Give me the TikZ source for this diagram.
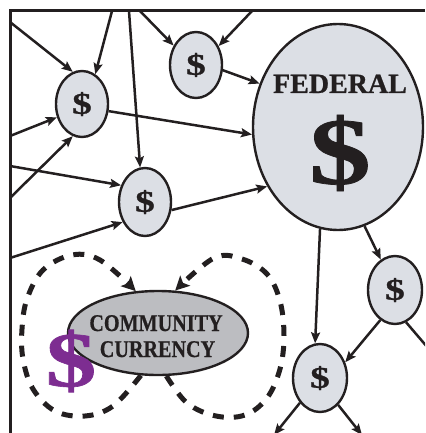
\documentclass[tikz,border=0pt]{standalone}
\usepackage{fontspec}
\setmainfont{Liberation Serif}
\newfontfamily\heavy[FakeBold=0.8]{Liberation Serif Bold}
\usepackage{graphicx}
\usetikzlibrary{shapes.geometric,arrows.meta}
\definecolor{bubble}{RGB}{220,223,229}
\definecolor{commfill}{RGB}{188,189,193}
\definecolor{ink}{RGB}{35,31,32}
\definecolor{plum}{RGB}{125,45,145}
\newcommand{\wide}[1]{\scalebox{1.3}[1]{#1}}
\newcommand{\narrow}[1]{\scalebox{0.84}[1]{#1}}
\begin{document}
\begin{tikzpicture}[x=1pt,y=-1pt,
  cell/.style={ellipse, draw=ink, line width=2.4pt, fill=bubble, inner sep=0pt,
    minimum width=52pt, minimum height=66pt},
  flow/.style={draw=ink, line width=2.5pt, -{Stealth[length=11pt,width=9pt,inset=2pt]}},
  cycle/.style={draw=ink, line width=5pt, dash pattern=on 11pt off 10pt,
    -{Stealth[length=14pt,width=14pt,inset=3pt]}},
  dollar/.style={font=\heavy\fontsize{30}{30}\selectfont, text=ink},
  word/.style={font=\heavy\fontsize{24}{24}\selectfont, text=ink, inner sep=0pt, anchor=base}
]
\useasboundingbox (0,0) rectangle (425,433);
\clip (0,0) rectangle (425,433);

% frame
\draw[ink, line width=3pt] (425,11) -- (10,11) -- (10,440);

% money bubbles
\node[cell, dollar] (a) at (82,104) {\wide{\$}};
\node[cell, dollar] (b) at (196,65) {\wide{\$}};
\node[cell, dollar, minimum height=68pt] (c) at (145,202) {\wide{\$}};
\node[cell, dollar, minimum width=54pt, minimum height=68pt] (d) at (395,290) {\wide{\$}};
\node[cell, dollar, minimum width=54pt, minimum height=68pt] (e) at (320,378) {\wide{\$}};

% federal reserve
\node[cell, minimum width=170pt, minimum height=206pt] (fed) at (338,127) {};
\node[word, font=\heavy\fontsize{28}{28}\selectfont] (fedname) at (340,93) {FEDERAL};
\node[inner sep=0pt, text=ink, font=\heavy\fontsize{95}{95}\selectfont] (fedsign) at (340,153) {\wide{\$}};

% community currency
\node[ellipse, draw=ink, line width=2.4pt, fill=commfill, inner sep=0pt,
  minimum width=180pt, minimum height=84pt] (com) at (158,333) {};
\node[word] (comtop) at (156,331) {\narrow{COMMUNITY}};
\node[word] (combot) at (157.5,357) {\narrow{CURRENCY}};
\node[inner sep=0pt, text=plum, font=\heavy\fontsize{78}{78}\selectfont] (comsign) at (71,361) {\wide{\$}};

% entry points on the frame and exits past the edge
\coordinate (l1) at (10,22);
\coordinate (l2) at (10,136);
\coordinate (l3) at (10,198);
\coordinate (l4) at (10,166);
\coordinate (l5) at (10,258);
\coordinate (t1) at (112,11);
\coordinate (t2) at (140,11);
\coordinate (t3) at (252,11);
\coordinate (t4) at (129,11);
\coordinate (o1) at (440,362);
\coordinate (o2) at (274,435);
\coordinate (o3) at (362,435);

% money flows
\draw[flow] (l1) -- (a.106);
\draw[flow] (t1) -- (a.66);
\draw[flow] (l2) -- (a.208);
\draw[flow] (l3) -- (a.254);
\draw[flow] (t2) -- (b.139);
\draw[flow] (t3) -- (b.40);
\draw[flow] (t4) -- (c.98);
\draw[flow] (l4) -- (c.145);
\draw[flow] (l5) -- (c.222);
\draw[flow] (b.-11) -- (fed.151);
\draw[flow] (a.-15) -- (fed.185);
\draw[flow] (c.-17) -- (fed.220);
\draw[flow] (fed.260) -- (e.98);
\draw[flow] (fed.285) -- (d.115);
\draw[flow] (d.244) -- (e.32);
\draw[flow] (d.289) -- (o1);
\draw[flow] (e.231) -- (o2);
\draw[flow] (e.304) -- (o3);

% local circulation loops
\draw[cycle] plot[smooth, tension=0.6] coordinates {(com.248) (113,406) (85,416) (55,411) (33,389) (23,359) (22,329) (27,299) (43,270) (72,255) (100,260) (com.118)};
\draw[cycle] plot[smooth, tension=0.6] coordinates {(com.281) (187,403) (216,416) (245,415) (267,398) (280,369) (284,336) (280,301) (267,274) (242,259) (214,258) (com.68)};
\end{tikzpicture}
\end{document}
